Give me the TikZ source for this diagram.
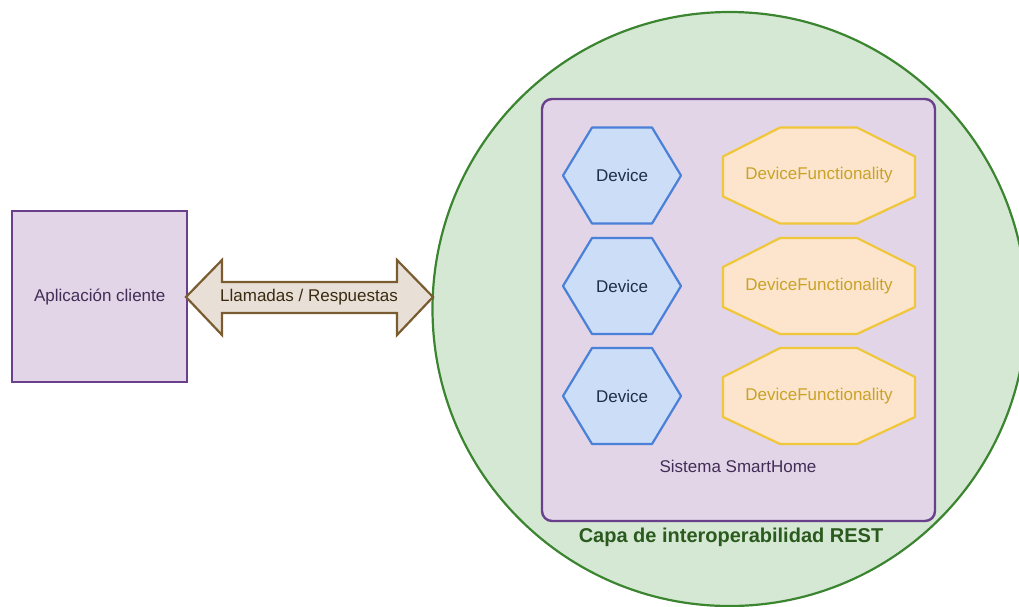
\documentclass[tikz,border=0pt]{standalone}
\usepackage{fontspec}
\setmainfont{Liberation Sans}
\definecolor{purpfill}{HTML}{E1D5E7}
\definecolor{purpline}{HTML}{6A3F8C}
\definecolor{purptext}{HTML}{432D57}
\definecolor{greenfill}{HTML}{D5E8D4}
\definecolor{greenline}{HTML}{3B8530}
\definecolor{greentext}{HTML}{2B5A1E}
\definecolor{bluefill}{HTML}{CCDDF7}
\definecolor{blueline}{HTML}{4A80D8}
\definecolor{bluetext}{HTML}{1C2E4A}
\definecolor{orgfill}{HTML}{FCE5CC}
\definecolor{orgline}{HTML}{F0C63A}
\definecolor{orgtext}{HTML}{C9A227}
\definecolor{tanfill}{HTML}{E8E0D6}
\definecolor{tanline}{HTML}{7A5C30}
\definecolor{tantext}{HTML}{3A2A12}
\begin{document}
\begin{tikzpicture}[x=1pt,y=-1pt,
  lbl/.style={font=\fontsize{17}{20}\selectfont, inner sep=0pt},
  hexa/.style={draw=blueline, fill=bluefill, line width=2.2pt, line join=round},
  octa/.style={draw=orgline, fill=orgfill, line width=2.2pt, line join=round},
  purpbox/.style={draw=purpline, fill=purpfill, line width=2.4pt}]
\useasboundingbox (0,0) rectangle (1019,606);
\clip (0,0) rectangle (1019,606);
% REST layer circle
\draw[draw=greenline, fill=greenfill, line width=2.2pt] (729.5,309) circle[radius=297];
% SmartHome system box
\draw[purpbox, rounded corners=10pt] (542,99) rectangle (935,521);
% client box
\node[purpbox, minimum width=175pt, minimum height=171pt, inner sep=0pt, anchor=north west] (client) at (11,210) {};
\node[lbl, text=purptext] (clientlbl) at (client.center) {Aplicación cliente};
% double arrow
\draw[draw=tanline, fill=tanfill, line width=2.2pt, line join=miter]
  (186,297) -- (222,260) -- (222,282) -- (397,282) -- (397,260) -- (433,297)
  -- (397,335) -- (397,313) -- (222,313) -- (222,335) -- cycle;
\node[lbl, text=tantext] (calls) at (309,297) {Llamadas / Respuestas};
% devices and functionalities
\foreach \i/\yc in {1/175.5, 2/286, 3/396}{
  \draw[hexa] (563,\yc) -- (592,\yc-48) -- (652,\yc-48) -- (681,\yc) -- (652,\yc+48) -- (592,\yc+48) -- cycle;
  \node[lbl, text=bluetext] (dev\i) at (622,\yc) {Device};
  \draw[octa] (723,\yc-19) -- (780,\yc-48) -- (857,\yc-48) -- (915,\yc-19) -- (915,\yc+21) -- (857,\yc+48) -- (780,\yc+48) -- (723,\yc+21) -- cycle;
  \node[lbl, text=orgtext] (func\i) at (819,\yc) {DeviceFunctionality};
}
\node[lbl, text=purptext] (system) at (738,466) {Sistema SmartHome};
\node[lbl, text=greentext, font=\fontsize{20}{24}\selectfont\bfseries] (layer) at (731,537) {Capa de interoperabilidad REST};
\end{tikzpicture}
\end{document}
